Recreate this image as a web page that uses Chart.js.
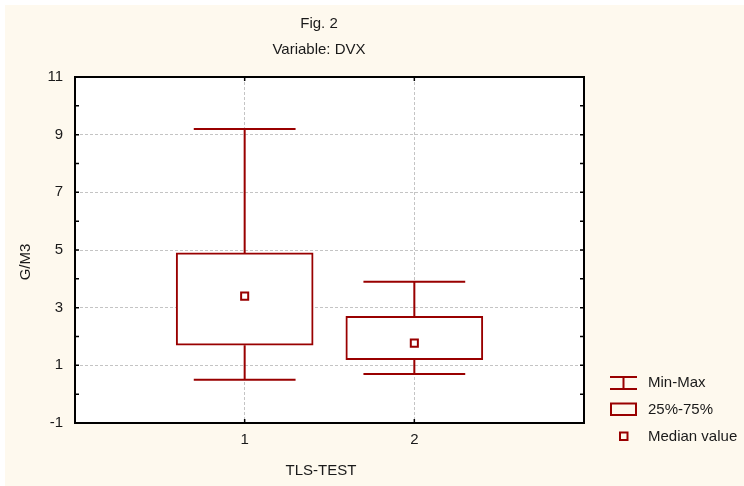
<!DOCTYPE html>
<html>
<head>
<meta charset="utf-8">
<script src="https://cdn.jsdelivr.net/npm/chart.js@4.4.0/dist/chart.umd.min.js"></script>
<style>
    html, body { margin: 0; padding: 0; background: #fff; }
    #wrap { width: 744px; height: 486px; position: relative; }
</style>
</head>
<body>
<div id="wrap"><canvas id="boxChart" width="744" height="486"></canvas></div>
<script>
// data
const groups = [1, 2];
const tickLabels = ['1', '2'];
const minValues = [0.5, 0.7];
const q1Values = [1.7, 1.2];
const medianValues = [3.4, 1.77];
const q3Values = [4.9, 2.7];
const maxValues = [9.2, 3.9];

const RED = '#990000';
const FONT = "'Liberation Sans', Arial, sans-serif";
const capHalf = 0.3;

// whisker segments, null breaks the line
const whiskerPts = [];
groups.forEach((g, i) => {
    whiskerPts.push({x: g, y: maxValues[i]}, {x: g, y: q3Values[i]}, {x: g, y: null});
    whiskerPts.push({x: g, y: q1Values[i]}, {x: g, y: minValues[i]}, {x: g, y: null});
    whiskerPts.push({x: g - capHalf, y: maxValues[i]}, {x: g + capHalf, y: maxValues[i]}, {x: g, y: null});
    whiskerPts.push({x: g - capHalf, y: minValues[i]}, {x: g + capHalf, y: minValues[i]}, {x: g, y: null});
});

const decorPlugin = {
    id: 'decor',
    beforeDraw(chart) {
        const ctx = chart.ctx;
        const a = chart.chartArea;
        ctx.save();
        ctx.fillStyle = '#FEF9EE';
        ctx.fillRect(5, 5, chart.width - 5, chart.height - 5);
        ctx.fillStyle = '#fff';
        ctx.fillRect(a.left, a.top, a.right - a.left, a.bottom - a.top);
        ctx.restore();
    },
    afterDraw(chart) {
        const ctx = chart.ctx;
        const a = chart.chartArea;
        const xs = chart.scales.x, ys = chart.scales.y;
        ctx.save();
        // frame
        ctx.strokeStyle = '#000';
        ctx.lineWidth = 2;
        ctx.strokeRect(a.left, a.top, a.right - a.left, a.bottom - a.top);
        // inner ticks
        ctx.lineWidth = 1.5;
        ctx.beginPath();
        ys.ticks.forEach(t => {
            const y = ys.getPixelForValue(t.value);
            ctx.moveTo(a.left, y); ctx.lineTo(a.left + 4, y);
            ctx.moveTo(a.right, y); ctx.lineTo(a.right - 4, y);
        });
        groups.forEach(g => {
            const x = xs.getPixelForValue(g);
            ctx.moveTo(x, a.top); ctx.lineTo(x, a.top + 4);
            ctx.moveTo(x, a.bottom); ctx.lineTo(x, a.bottom - 4);
        });
        ctx.stroke();

        // titles
        ctx.fillStyle = '#1a1a1a';
        ctx.font = '15px ' + FONT;
        ctx.textAlign = 'center';
        ctx.textBaseline = 'alphabetic';
        ctx.fillText('Fig. 2', 319, 28);
        ctx.fillText('Variable: DVX', 319, 54);
        ctx.fillText('TLS-TEST', 321, 475);
        ctx.save();
        ctx.translate(30, 262);
        ctx.rotate(-Math.PI / 2);
        ctx.fillText('G/M3', 0, 0);
        ctx.restore();

        // legend
        ctx.strokeStyle = RED;
        ctx.lineWidth = 2;
        ctx.beginPath();
        ctx.moveTo(610, 377); ctx.lineTo(637, 377);
        ctx.moveTo(610, 389); ctx.lineTo(637, 389);
        ctx.moveTo(623.5, 377); ctx.lineTo(623.5, 389);
        ctx.stroke();
        ctx.strokeRect(611, 403.5, 25, 11.5);
        ctx.strokeRect(620, 432.5, 7.5, 7.5);
        ctx.textAlign = 'left';
        ctx.fillText('Min-Max', 648, 387);
        ctx.fillText('25%-75%', 648, 413.5);
        ctx.fillText('Median value', 648, 441);
        ctx.restore();
    }
};

new Chart(document.getElementById('boxChart'), {
    type: 'bar',
    data: {
        datasets: [
            {
                type: 'scatter',
                label: 'Median value',
                data: groups.map((g, i) => ({x: g, y: medianValues[i]})),
                pointStyle: 'rect',
                pointRadius: 5,
                pointBorderWidth: 2,
                pointBackgroundColor: '#fff',
                pointBorderColor: RED,
                order: 0
            },
            {
                type: 'bar',
                label: '25%-75%',
                data: groups.map((g, i) => ({x: g, y: [q1Values[i], q3Values[i]]})),
                backgroundColor: '#fff',
                borderColor: RED,
                borderWidth: 2,
                borderSkipped: false,
                barThickness: 137,
                order: 1
            },
            {
                type: 'scatter',
                label: 'Min-Max',
                data: whiskerPts,
                showLine: true,
                spanGaps: false,
                pointRadius: 0,
                borderColor: RED,
                borderWidth: 2,
                order: 2
            }
        ]
    },
    plugins: [decorPlugin],
    options: {
        responsive: false,
        animation: false,
        devicePixelRatio: 1,
        layout: { padding: { left: 0, top: 77, right: 160, bottom: 33 } },
        plugins: {
            legend: { display: false },
            tooltip: { enabled: false },
            title: { display: false }
        },
        scales: {
            x: {
                type: 'linear',
                min: 0,
                max: 3,
                offset: false,
                afterFit(scale) { scale.height = 30; },
                ticks: {
                    stepSize: 1,
                    autoSkip: false,
                    padding: 8,
                    color: '#1a1a1a',
                    font: { family: FONT, size: 15 },
                    callback: v => (groups.includes(v) ? tickLabels[groups.indexOf(v)] : '')
                },
                grid: {
                    offset: false,
                    drawTicks: false,
                    color: c => (c.tick && groups.includes(c.tick.value) ? '#c4c4c4' : 'rgba(0,0,0,0)')
                },
                border: { display: false, dash: [3, 2] }
            },
            y: {
                min: -1,
                max: 11,
                afterFit(scale) { scale.width = 75; },
                ticks: {
                    stepSize: 1,
                    autoSkip: false,
                    padding: 12,
                    color: '#1a1a1a',
                    font: { family: FONT, size: 15 },
                    callback: v => (Math.abs(v % 2) === 1 ? v : '')
                },
                grid: {
                    drawTicks: false,
                    color: c => (c.tick && Math.abs(c.tick.value % 2) === 1 ? '#c4c4c4' : 'rgba(0,0,0,0)')
                },
                border: { display: false, dash: [3, 2] }
            }
        }
    }
});
</script>
</body>
</html>
